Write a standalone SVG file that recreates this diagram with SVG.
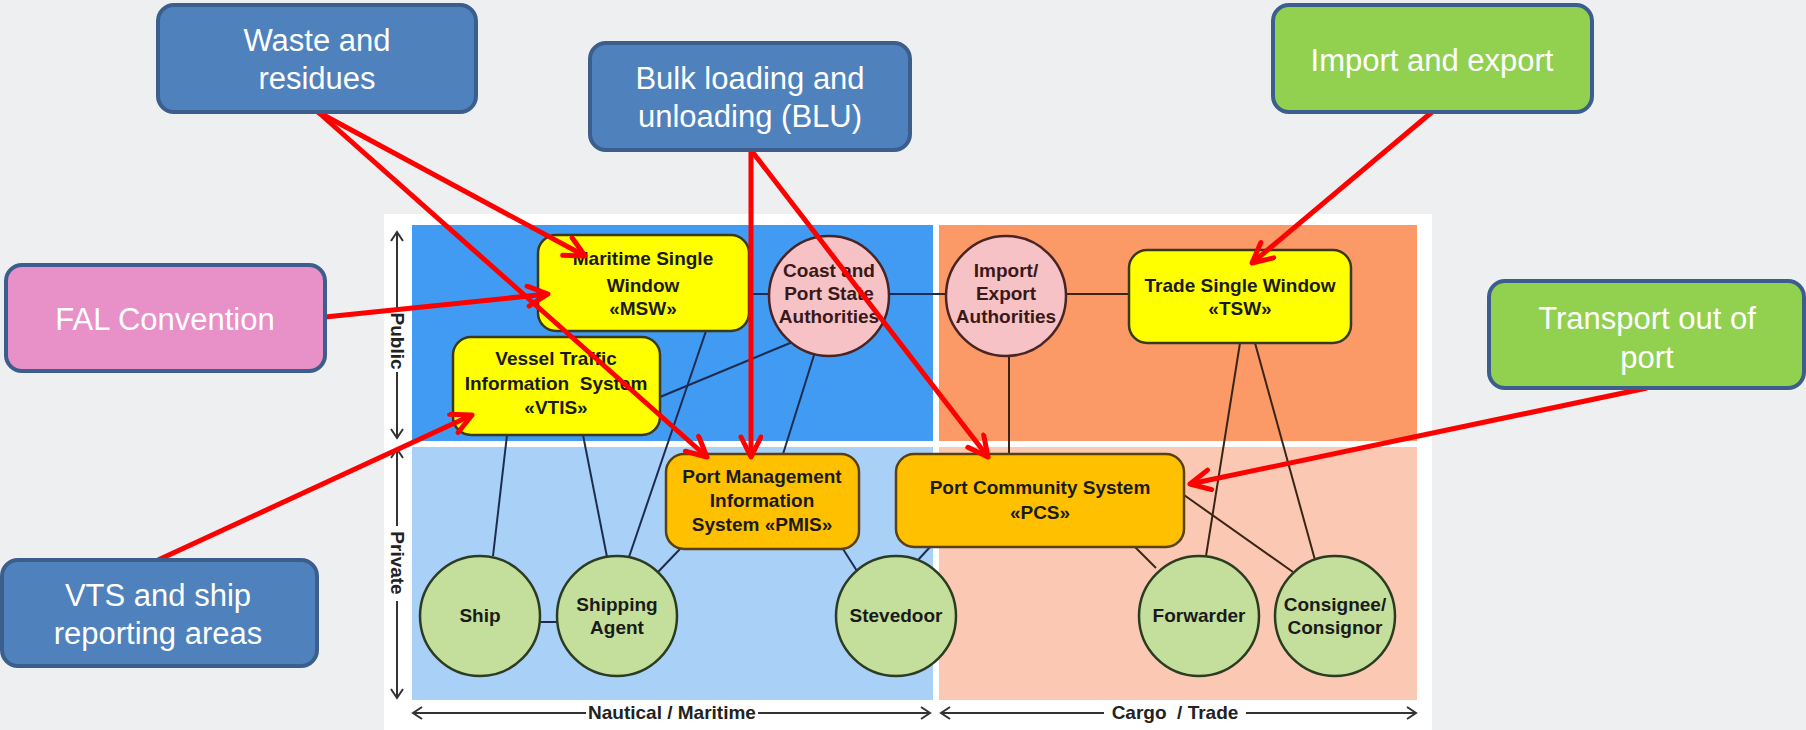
<svg xmlns="http://www.w3.org/2000/svg" width="1806" height="730" viewBox="0 0 1806 730">
<defs>
<style>
.call{stroke-width:4;}
.ct{font-family:"Liberation Sans",Arial,sans-serif;font-size:31px;fill:#ffffff;text-anchor:middle;}
.nt{font-family:"Liberation Sans",Arial,sans-serif;font-size:19px;font-weight:bold;fill:#1a1a1a;text-anchor:middle;}
.pt{fill:#3a1818;}
.ax{font-family:"Liberation Sans",Arial,sans-serif;font-size:19px;font-weight:bold;fill:#222222;text-anchor:middle;white-space:pre;}
.yb{fill:#ffff00;stroke:#3a3a1a;stroke-width:2.5;}
.ob{fill:#ffc000;stroke:#5a4010;stroke-width:2.5;}
.pc{fill:#f6c2c6;stroke:#4a2424;stroke-width:2.5;}
.gc{fill:#c4df9b;stroke:#2c3c22;stroke-width:2.5;}
.lb{stroke:#1c2c50;stroke-width:2;fill:none;}
.lo{stroke:#3a2416;stroke-width:2;fill:none;}
.ra{stroke:#ff0000;stroke-width:5;fill:none;marker-end:url(#ah);}
.axl{stroke:#333333;stroke-width:2;fill:none;}
</style>
<marker id="ah" markerWidth="30" markerHeight="30" refX="24" refY="12" orient="auto" markerUnits="userSpaceOnUse">
<path d="M4,2 L24,12 L4,22" fill="none" stroke="#ff0000" stroke-width="5" stroke-linecap="round" stroke-linejoin="round"/>
</marker>
<marker id="sa" markerWidth="16" markerHeight="16" refX="11" refY="7" orient="auto-start-reverse" markerUnits="userSpaceOnUse">
<path d="M2,1 L11,7 L2,13" fill="none" stroke="#333333" stroke-width="2"/>
</marker>
</defs>
<rect x="0" y="0" width="1806" height="730" fill="#eeeff1"/>
<g id="panel">
<rect x="384" y="214" width="1048" height="516" fill="#ffffff"/>
<rect x="412" y="225" width="521" height="216" fill="#419bf3"/>
<rect x="412" y="447" width="521" height="253" fill="#a9d0f7"/>
<rect x="939" y="225" width="478" height="216" fill="#fb9a67"/>
<rect x="939" y="447" width="478" height="253" fill="#fbc9b3"/>
</g>
<g id="axes">
<line class="axl" x1="397" y1="232" x2="397" y2="310" marker-start="url(#sa)"/>
<line class="axl" x1="397" y1="372" x2="397" y2="438" marker-end="url(#sa)"/>
<text class="ax" transform="translate(391,341) rotate(90)">Public</text>
<line class="axl" x1="397" y1="449" x2="397" y2="526" marker-start="url(#sa)"/>
<line class="axl" x1="397" y1="601" x2="397" y2="698" marker-end="url(#sa)"/>
<text class="ax" transform="translate(391,563) rotate(90)">Private</text>
<line class="axl" x1="413" y1="713" x2="586" y2="713" marker-start="url(#sa)"/>
<line class="axl" x1="758" y1="713" x2="930" y2="713" marker-end="url(#sa)"/>
<text class="ax" x="672" y="719">Nautical / Maritime</text>
<line class="axl" x1="941" y1="713" x2="1104" y2="713" marker-start="url(#sa)"/>
<line class="axl" x1="1246" y1="713" x2="1416" y2="713" marker-end="url(#sa)"/>
<text class="ax" x="1175" y="719">Cargo  / Trade</text>
</g>
<g id="links">
<line class="lb" x1="749" y1="294" x2="770" y2="294"/>
<line class="lb" x1="889" y1="294" x2="939" y2="294"/>
<line class="lo" x1="939" y1="294" x2="946" y2="294"/>
<line class="lo" x1="1066" y1="294" x2="1129" y2="294"/>
<line class="lb" x1="706" y1="331" x2="629" y2="557"/>
<line class="lb" x1="660" y1="397" x2="795" y2="341"/>
<line class="lb" x1="815" y1="352" x2="783" y2="454"/>
<line class="lb" x1="507" y1="435" x2="493" y2="556"/>
<line class="lb" x1="583" y1="435" x2="607" y2="557"/>
<line class="lo" x1="1009" y1="356" x2="1009" y2="454"/>
<line class="lo" x1="1240" y1="343" x2="1206" y2="556"/>
<line class="lo" x1="1255" y1="343" x2="1315" y2="560"/>
<line class="lo" x1="1184" y1="495" x2="1293" y2="572"/>
<line class="lo" x1="1135" y1="547" x2="1156" y2="568"/>
<line class="lb" x1="680" y1="549" x2="658" y2="572"/>
<line class="lb" x1="843" y1="549" x2="857" y2="571"/>
<line class="lb" x1="930" y1="547" x2="918" y2="560"/>
<line class="lb" x1="540" y1="622" x2="557" y2="622"/>
</g>
<g id="msw"><rect class="yb" x="538" y="235" width="211" height="96" rx="18"/>
<text class="nt" x="643" y="265">Maritime Single</text><text class="nt" x="643" y="292">Window</text><text class="nt" x="643" y="315">«MSW»</text></g>
<g id="coast"><circle class="pc" cx="829" cy="296" r="60"/>
<text class="nt pt" x="829" y="277">Coast and</text><text class="nt pt" x="829" y="300">Port State</text><text class="nt pt" x="829" y="323">Authorities</text></g>
<g id="impexp"><circle class="pc" cx="1006" cy="296" r="60"/>
<text class="nt pt" x="1006" y="277">Import/</text><text class="nt pt" x="1006" y="300">Export</text><text class="nt pt" x="1006" y="323">Authorities</text></g>
<g id="tsw"><rect class="yb" x="1129" y="250" width="222" height="93" rx="18"/>
<text class="nt" x="1240" y="292">Trade Single Window</text><text class="nt" x="1240" y="315">«TSW»</text></g>
<g id="vtis"><rect class="yb" x="453" y="337" width="207" height="98" rx="18"/>
<text class="nt" x="556" y="365">Vessel Traffic</text><text class="nt" x="556" y="390" style="white-space:pre">Information  System</text><text class="nt" x="556" y="414">«VTIS»</text></g>
<g id="pmis"><rect class="ob" x="666" y="454" width="193" height="95" rx="18"/>
<text class="nt" x="762" y="483">Port Management</text><text class="nt" x="762" y="507">Information</text><text class="nt" x="762" y="531">System «PMIS»</text></g>
<g id="pcs"><rect class="ob" x="896" y="454" width="288" height="93" rx="18"/>
<text class="nt" x="1040" y="494">Port Community System</text><text class="nt" x="1040" y="519">«PCS»</text></g>
<g id="ship"><circle class="gc" cx="480" cy="616" r="60"/><text class="nt" x="480" y="622">Ship</text></g>
<g id="agent"><circle class="gc" cx="617" cy="616" r="60"/><text class="nt" x="617" y="611">Shipping</text><text class="nt" x="617" y="634">Agent</text></g>
<g id="stevedoor"><circle class="gc" cx="896" cy="616" r="60"/><text class="nt" x="896" y="622">Stevedoor</text></g>
<g id="forwarder"><circle class="gc" cx="1199" cy="616" r="60"/><text class="nt" x="1199" y="622">Forwarder</text></g>
<g id="consignee"><circle class="gc" cx="1335" cy="616" r="60"/><text class="nt" x="1335" y="611">Consignee/</text><text class="nt" x="1335" y="634">Consignor</text></g>
<g id="arrows">
<line class="ra" x1="318" y1="112" x2="585" y2="256"/>
<line class="ra" x1="318" y1="112" x2="707" y2="457"/>
<line class="ra" x1="751" y1="150" x2="751" y2="457"/>
<line class="ra" x1="751" y1="150" x2="988" y2="457"/>
<line class="ra" x1="1432" y1="112" x2="1252" y2="263"/>
<line class="ra" x1="325" y1="317" x2="548" y2="294"/>
<line class="ra" x1="158" y1="560" x2="472" y2="415"/>
<line class="ra" x1="1647" y1="388" x2="1190" y2="484"/>
</g>
<g id="waste"><rect class="call" x="158" y="5" width="318" height="107" rx="16" fill="#4f81bd" stroke="#3b5e8c"/>
<text class="ct" x="317" y="51">Waste and</text><text class="ct" x="317" y="89">residues</text></g>
<g id="bulk"><rect class="call" x="590" y="43" width="320" height="107" rx="16" fill="#4f81bd" stroke="#3b5e8c"/>
<text class="ct" x="750" y="89">Bulk loading and</text><text class="ct" x="750" y="127">unloading (BLU)</text></g>
<g id="import"><rect class="call" x="1273" y="5" width="319" height="107" rx="16" fill="#92d050" stroke="#3b5e8c"/>
<text class="ct" x="1432" y="71">Import and export</text></g>
<g id="fal"><rect class="call" x="6" y="265" width="319" height="106" rx="16" fill="#e890c8" stroke="#3b5e8c"/>
<text class="ct" x="165" y="330">FAL Convention</text></g>
<g id="transport"><rect class="call" x="1489" y="281" width="315" height="107" rx="16" fill="#92d050" stroke="#3b5e8c"/>
<text class="ct" x="1647" y="329">Transport out of</text><text class="ct" x="1647" y="368">port</text></g>
<g id="vts"><rect class="call" x="2" y="560" width="315" height="106" rx="16" fill="#4f81bd" stroke="#3b5e8c"/>
<text class="ct" x="158" y="606">VTS and ship</text><text class="ct" x="158" y="644">reporting areas</text></g>
</svg>
